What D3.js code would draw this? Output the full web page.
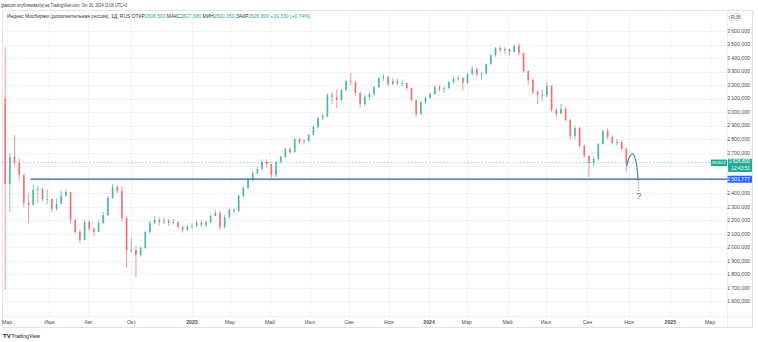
<!DOCTYPE html>
<html><head><meta charset="utf-8">
<script src="https://cdn.jsdelivr.net/npm/d3@7"></script>
<style>body{margin:0;background:#fff}svg{display:block}text{font-family:"Liberation Sans",Arial,sans-serif}</style>
</head><body><svg id="c" width="758" height="342"></svg>
<script>
// ---------- data ----------
const firstOpen = 3100;
const weekClose = [2470,
 2668,2624,2535,2328,2313,2424,2431,2357,2357,2284,2320,2380,2409,2202,2113,2054,2187,2136,2113,2180,
 2239,2365,2446,2417,2217,1980,1980,1943,1995,2113,2180,2202,2187,2195,2180,2187,2150,2128,2150,2158,
 2180,2165,2187,2232,2254,2150,2224,2276,2269,2380,2439,2498,2550,2579,2631,2616,2535,2631,2668,2727,
 2705,2801,2779,2786,2831,2890,2957,2971,3127,3112,3090,3164,3230,3223,3141,3060,3112,3134,3186,3252,
 3260,3208,3230,3215,3215,3178,3090,2986,3075,3104,3134,3186,3171,3178,3223,3245,3252,3215,3282,3319,
 3282,3282,3356,3422,3474,3459,3467,3445,3489,3437,3304,3238,3149,3127,3127,3193,3016,2986,3023,2942,
 2823,2883,2749,2676,2624,2653,2764,2860,2816,2772,2779,2727,2626.8];
const weekHigh = [3480,
 2700,2831,2660,2540,2400,2460,2460,2440,2430,2360,2360,2420,2430,2410,2210,2130,2200,2200,2150,2200,
 2260,2380,2470,2460,2450,2230,2070,2010,2010,2120,2200,2230,2220,2220,2210,2210,2190,2160,2170,2180,
 2200,2200,2200,2250,2280,2270,2240,2290,2290,2390,2450,2510,2560,2600,2650,2650,2620,2640,2680,2740,
 2740,2810,2810,2800,2840,2900,2960,2990,3140,3150,3170,3170,3240,3290,3230,3150,3130,3150,3190,3260,
 3280,3270,3250,3250,3240,3220,3180,3090,3080,3120,3150,3200,3200,3190,3230,3260,3270,3260,3290,3340,
 3330,3300,3360,3430,3480,3490,3480,3470,3500,3511,3440,3310,3250,3160,3170,3220,3200,3030,3060,3040,
 2950,2900,2890,2760,2680,2670,2770,2870,2880,2830,2800,2790,2740];
const weekLow = [1685,
 2260,2600,2500,2300,2180,2310,2330,2340,2320,2260,2270,2320,2370,2180,2100,2030,2050,2120,2080,2110,
 2170,2230,2360,2400,2190,1847,1960,1781,1930,1990,2100,2170,2160,2170,2160,2170,2140,2110,2120,2140,
 2150,2150,2150,2180,2230,2130,2140,2210,2250,2260,2370,2430,2490,2540,2570,2590,2510,2520,2620,2660,
 2690,2700,2760,2760,2780,2830,2880,2940,2960,3060,3030,3080,3160,3200,3120,3030,3040,3090,3120,3180,
 3230,3190,3200,3200,3190,3160,3080,2960,2980,3060,3100,3130,3150,3140,3170,3210,3230,3160,3210,3270,
 3260,3240,3280,3350,3410,3440,3430,3420,3440,3420,3290,3200,3130,3060,3080,3110,3000,2960,2990,2930,
 2800,2800,2740,2660,2520,2600,2640,2760,2800,2760,2750,2720,2560];
const lastPrice = 2626.8;
const levelPrice = 2503.777;
const levelStartBar = 24.3;
const tickLabels = ["Мар","Июн","Авг","Окт","2023","Мар","Май","Июл","Сен","Ноя","2024","Мар","Май","Июл","Сен","Ноя","2025","Мар"];
const tickBars   = [-1,44.4,86.2,132.2,197,237.4,280.5,323.3,365.1,407.7,450.8,491.1,534.8,576,620.4,664.9,709.1,751.6];
const priceTicks = d3.range(1600, 3601, 100);
const forecastBars = [662.5, 665.2, 668.8, 672.2, 674.6];
const forecastVals = [2600, 2665, 2692, 2640, 2500];
const forecastTail = [[674.6, 2500], [675.6, 2415]];

// ---------- layout ----------
const svg = d3.select("#c");
const plot = {l: 2, r: 727, t: 10, b: 316};
const x = d3.scaleLinear().domain([-6.4, 769.8]).range([2, 727]);
const y = d3.scaleLinear().domain([1600, 3600]).range([301.4, 31]);
const upC = "#26a69a", dnC = "#ef5350";
const fmtL = d3.formatLocale({decimal: ",", thousands: "\u2009", grouping: [3]}).format(",.3f");

// frame
svg.append("rect").attr("x", 2.5).attr("y", 10.5).attr("width", 750).attr("height", 317)
  .attr("fill", "none").attr("stroke", "#e0e3eb").attr("stroke-width", 1);

svg.append("clipPath").attr("id", "pc").append("rect")
  .attr("x", plot.l).attr("y", plot.t).attr("width", plot.r - plot.l).attr("height", plot.b - plot.t);

// grid
const g = svg.append("g");
g.selectAll(".hg").data(priceTicks).join("line")
  .attr("x1", plot.l).attr("x2", plot.r).attr("y1", d => Math.round(y(d)) + 0.5).attr("y2", d => Math.round(y(d)) + 0.5)
  .attr("stroke", "#f0f3fa").attr("stroke-width", 1);
g.selectAll(".vg").data(tickBars).join("line")
  .attr("x1", d => Math.round(x(d)) + 0.5).attr("x2", d => Math.round(x(d)) + 0.5).attr("y1", plot.t).attr("y2", plot.b)
  .attr("stroke", "#f0f3fa").attr("stroke-width", 1);

// axis separators
svg.append("line").attr("x1", plot.r + 0.5).attr("x2", plot.r + 0.5).attr("y1", plot.t).attr("y2", 327)
  .attr("stroke", "#eceff4");
svg.append("line").attr("x1", plot.l).attr("x2", 752).attr("y1", plot.b + 0.5).attr("y2", plot.b + 0.5)
  .attr("stroke", "#eceff4");

// current price dotted line
svg.append("line").attr("x1", plot.l).attr("x2", plot.r).attr("y1", y(lastPrice)).attr("y2", y(lastPrice))
  .attr("stroke", upC).attr("stroke-opacity", 0.6).attr("stroke-width", 0.8).attr("stroke-dasharray", "1.5,2");

// candles
const candles = weekClose.map((c, j) => ({
  bar: 5 * (j - 1) + 2,
  o: j === 0 ? firstOpen : weekClose[j - 1],
  c: c, h: weekHigh[j], l: weekLow[j]
}));
const cg = svg.append("g").attr("clip-path", "url(#pc)");
const cs = cg.selectAll("g").data(candles).join("g");
cs.append("line")
  .attr("x1", d => x(d.bar)).attr("x2", d => x(d.bar))
  .attr("y1", d => y(d.h)).attr("y2", d => y(d.l))
  .attr("stroke", d => d.c >= d.o ? upC : dnC).attr("stroke-width", 0.8).attr("stroke-opacity", 0.75);
cs.append("rect")
  .attr("x", d => x(d.bar) - 0.9).attr("width", 1.8)
  .attr("y", d => y(Math.max(d.o, d.c))).attr("height", d => Math.max(0.8, Math.abs(y(d.o) - y(d.c))))
  .attr("fill", d => d.c >= d.o ? upC : dnC).attr("fill-opacity", 0.65);

// horizontal level line
svg.append("line").attr("x1", x(levelStartBar)).attr("x2", plot.r).attr("y1", y(levelPrice)).attr("y2", y(levelPrice))
  .attr("stroke", "#2e5e9e").attr("stroke-width", 1.3);

// forecast arc
const arc = d3.line().x(d => x(d[0])).y(d => y(d[1])).curve(d3.curveCatmullRom.alpha(0.5));
svg.append("path").attr("d", arc(forecastBars.map((b, i) => [b, forecastVals[i]])))
  .attr("fill", "none").attr("stroke", "#3a78c0").attr("stroke-width", 1.1);
svg.append("path").attr("d", d3.line().x(d => x(d[0])).y(d => y(d[1]))(forecastTail))
  .attr("fill", "none").attr("stroke", "#3a78c0").attr("stroke-width", 1).attr("stroke-dasharray", "1,1.5");
svg.append("text").attr("x", x(675.3)).attr("y", y(2355)).attr("text-anchor", "middle")
  .attr("font-size", 9).attr("fill", "#3a78c0").text("?");

// price axis labels (2 500 and 2 600 are hidden behind the price tags)
const ax = svg.append("g");
ax.selectAll("text").data(priceTicks.filter(d => d !== 2500 && d !== 2600)).join("text")
  .attr("x", 750).attr("y", d => y(d)).attr("dy", "0.35em").attr("text-anchor", "end")
  .attr("font-size", 5.2).attr("fill", "#4a4e59").text(d => fmtL(d));
// RUB box
svg.append("rect").attr("x", 729.5).attr("y", 13.5).attr("width", 12).attr("height", 7).attr("rx", 1)
  .attr("fill", "#fff").attr("stroke", "#e0e3eb");
svg.append("text").attr("x", 735.5).attr("y", 17).attr("dy", "0.35em").attr("text-anchor", "middle")
  .attr("font-size", 4.6).attr("fill", "#4a4e59").text("RUB");

// current price label
const lp = y(lastPrice);
svg.append("rect").attr("x", 711).attr("y", lp - 3).attr("width", 16).attr("height", 6.5).attr("fill", "#22ab94");
svg.append("text").attr("x", 719).attr("y", lp + 0.3).attr("dy", "0.35em").attr("text-anchor", "middle")
  .attr("font-size", 4.2).attr("fill", "#fff").text("RUS22");
svg.append("rect").attr("x", 728).attr("y", lp - 3.8).attr("width", 24).attr("height", 13.2).attr("fill", "#22ab94");
svg.append("text").attr("x", 750).attr("y", lp - 0.8).attr("dy", "0.35em").attr("text-anchor", "end")
  .attr("font-size", 4.8).attr("fill", "#fff").text(fmtL(lastPrice));
svg.append("text").attr("x", 750).attr("y", lp + 5.4).attr("dy", "0.35em").attr("text-anchor", "end")
  .attr("font-size", 4.8).attr("fill", "#fff").text("12:43:51");
// level label
svg.append("rect").attr("x", 727.5).attr("y", y(levelPrice) - 3.5).attr("width", 24.5).attr("height", 7).attr("fill", "#2962ff");
svg.append("text").attr("x", 750).attr("y", y(levelPrice)).attr("dy", "0.35em").attr("text-anchor", "end")
  .attr("font-size", 5.2).attr("fill", "#fff").text(fmtL(levelPrice));

// time axis labels
svg.append("g").selectAll("text").data(tickLabels).join("text")
  .attr("x", (d, i) => Math.max(x(tickBars[i]), 7)).attr("y", 322).attr("dy", "0.35em").attr("text-anchor", "middle")
  .attr("font-size", 5.2).attr("font-weight", d => /^\d{4}$/.test(d) ? "bold" : "normal")
  .attr("fill", "#4a4e59").text(d => d);

// header
svg.append("text").attr("x", 1).attr("y", 6.5).attr("font-size", 4.6).attr("fill", "#333")
  .attr("textLength", 126).attr("lengthAdjust", "spacingAndGlyphs")
  .text("glawcom опубликовал(а) на TradingView.com, Окт 30, 2024 11:06 UTC+3");
const hdr = svg.append("text").attr("x", 7).attr("y", 17.8).attr("font-size", 5).attr("fill", "#333")
  .attr("textLength", 303).attr("lengthAdjust", "spacingAndGlyphs");
const segs = [["Индекс Мосбиржи (дополнительная сессия), 1Д, RUS  ", "#333"], ["ОТКР", "#333"], ["2608,500", upC],
  ["  МАКС", "#333"], ["2627,680", upC], ["  МИН", "#333"], ["2600,350", upC], ["  ЗАКР", "#333"], ["2626,800", upC],
  ["  +19,330 (+0,74%)", upC]];
segs.forEach(s => hdr.append("tspan").attr("fill", s[1]).text(s[0]));

// footer logo
svg.append("text").attr("x", 3).attr("y", 338).attr("font-size", 6).attr("font-weight", "bold").attr("fill", "#131722").text("TV");
svg.append("text").attr("x", 11.5).attr("y", 338).attr("font-size", 5.2).attr("fill", "#131722").text("TradingView");
</script></body></html>
